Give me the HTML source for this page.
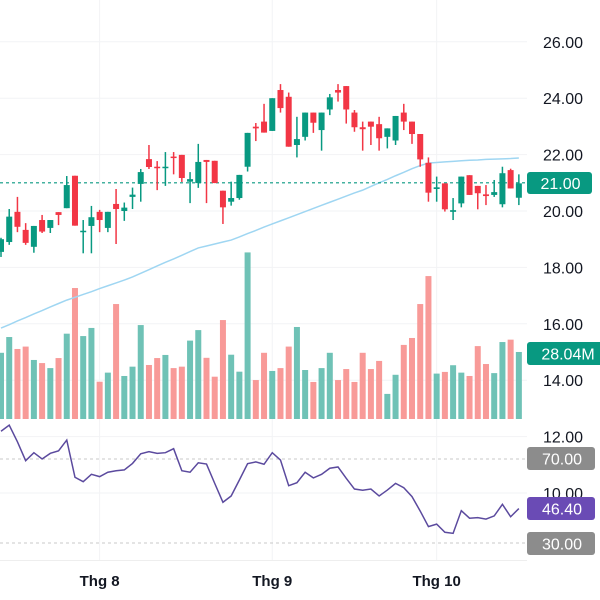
<!DOCTYPE html>
<html><head><meta charset="utf-8"><style>
html,body{margin:0;padding:0;background:#fff;width:600px;height:600px;overflow:hidden}
svg{display:block;font-family:"Liberation Sans",sans-serif}
</style></head><body>
<svg id="chart" width="600" height="600" viewBox="0 0 600 600"></svg>
<script>
const opens=[18.55,18.9,19.97,19.33,18.73,19.68,19.4,19.96,20.1,21.25,19.25,19.47,19.97,19.4,20.25,20.0,20.5,20.96,21.84,21.57,21.53,21.93,21.99,21.04,20.99,21.81,21.78,20.72,20.33,20.46,21.57,22.99,23.17,22.84,24.29,24.05,22.34,22.63,23.49,22.87,23.6,24.29,24.43,23.49,22.97,23.17,23.08,22.63,22.5,23.49,23.17,22.73,21.71,20.78,20.98,19.97,20.27,21.27,20.89,20.59,20.57,20.24,21.45,20.47];
const closes=[19.0,19.8,19.44,18.87,19.47,19.27,19.68,19.86,20.92,19.48,19.3,19.78,19.68,19.97,20.07,20.12,20.58,21.38,21.56,21.52,21.57,21.9,21.17,21.13,21.74,21.74,20.99,20.13,20.46,21.28,22.77,22.93,22.78,24.0,23.65,22.28,22.55,23.49,23.13,23.49,24.03,24.2,23.6,22.97,22.9,22.99,22.58,22.93,23.37,23.17,22.73,21.83,20.65,20.84,20.06,20.03,21.22,20.57,20.63,20.53,20.67,21.34,20.8,20.98];
const highs=[19.05,20.07,20.5,19.57,19.47,19.86,19.68,19.96,21.24,21.25,19.68,20.18,20.04,19.97,20.78,20.3,20.83,21.49,22.34,21.77,22.09,22.09,21.99,21.38,22.38,21.81,21.78,20.72,21.04,21.28,22.77,23.12,23.8,24.0,24.5,24.2,23.34,23.49,23.49,23.49,24.15,24.5,24.43,23.58,23.17,23.17,23.34,22.93,23.37,23.8,23.17,22.73,21.9,21.22,20.98,20.46,21.22,21.27,20.89,20.92,21.1,21.57,21.5,21.3];
const lows=[18.37,18.8,19.25,18.8,18.52,19.22,19.22,19.5,20.1,19.48,18.5,18.5,19.25,19.25,18.83,19.65,20.07,20.33,21.49,20.74,20.89,21.3,21.03,20.28,20.82,20.28,20.99,19.54,20.19,20.4,21.4,22.48,22.78,22.84,23.49,22.28,21.9,22.5,22.77,22.14,23.4,23.88,23.1,22.81,22.14,22.34,22.14,22.22,22.34,22.87,22.38,21.57,20.33,20.33,19.98,19.68,20.13,20.57,20.06,20.21,20.5,20.13,20.8,20.21];
const volumes=[27.7,34.3,29.3,30.3,24.7,23.4,21.3,25.5,35.7,54.8,34.7,38.1,15.6,19.4,48.1,18,21.9,39.3,22.6,25.5,26.8,21.3,21.9,32.8,37.2,25.6,17.7,41.4,26.9,19.8,69.7,16.3,27.7,20.1,21.3,30.3,38.5,20.5,15.5,21.3,27.7,16.3,20.9,15.5,27.7,20.9,24.3,10.5,18.5,31,33.9,48.1,59.8,19,19.7,22.5,19.4,18,30.5,23,19.2,32.2,33.2,28.04];
const maValues=[15.85,15.97,16.10,16.22,16.35,16.47,16.60,16.72,16.84,16.94,17.04,17.14,17.25,17.35,17.45,17.55,17.66,17.79,17.92,18.05,18.18,18.30,18.43,18.56,18.69,18.76,18.83,18.90,18.97,19.08,19.20,19.31,19.43,19.54,19.65,19.76,19.87,19.98,20.09,20.20,20.31,20.42,20.53,20.64,20.74,20.87,21.0,21.12,21.25,21.37,21.5,21.61,21.70,21.72,21.74,21.76,21.78,21.80,21.81,21.83,21.84,21.85,21.86,21.88];
const rsiValues=[83.2,86.1,78.2,69.2,73.0,70.0,72.7,73.9,79.0,61.3,59.2,62.7,61.6,63.7,64.4,64.8,67.9,72.5,73.5,72.7,73.0,74.9,64.4,63.7,68.2,67.6,58.4,49.4,52.4,60.0,67.8,68.6,67.5,73.0,69.5,57.3,58.7,63.7,61.0,62.7,65.6,66.2,60.8,55.7,55.1,55.7,52.4,55.2,58.4,56.3,52.1,45.2,37.8,39.0,35.1,34.6,45.4,41.8,42.1,41.4,42.9,48.4,42.5,46.4];
const priceTicks=[26,24,22,20,18,16,14,12,10];
const priceTickLabels=["26.00","24.00","22.00","20.00","18.00","16.00","14.00","12.00","10.00"];
const timeLabels=["Thg 8","Thg 9","Thg 10"];
const timeLabelIdx=[12,33,53];
const lastPrice=21.00;
const lastVolumeLabel="28.04M";
const rsiLevels=[70,30];

const NS="http://www.w3.org/2000/svg";
const svg=document.getElementById('chart');
const xOf=i=>1+8.22*i;
const yP=p=>211-(p-20)*28.2;
const yV=v=>419-v*2.39;
const yR=v=>459-(v-70)*2.1;
function mk(tag,attrs,parent){const e=document.createElementNS(NS,tag);for(const k in attrs)e.setAttribute(k,attrs[k]);(parent||svg).appendChild(e);return e;}

// grid
const grid=mk('g',{});


priceTicks.forEach(p=>{const l=mk('line',{x1:0,x2:527,y1:yP(p),y2:yP(p),stroke:'#f2f3f5','stroke-width':1},grid);});
timeLabelIdx.forEach(i=>{mk('line',{x1:xOf(i),x2:xOf(i),y1:0,y2:560,stroke:'#f2f3f5','stroke-width':1},grid);});
mk('line',{x1:0,x2:527,y1:560.5,y2:560.5,stroke:'#eeeeee','stroke-width':1},grid);

// volume
const vg=mk('g',{});


volumes.forEach((v,i)=>{
  const up=closes[i]>=opens[i];
  const r=mk('rect',{x:xOf(i)-3,y:yV(v),width:6,height:419-yV(v),fill:up?'#6fc2b6':'#f89a98'},vg);
  
  
});

// MA line
const ma=mk('polyline',{points:maValues.map((v,i)=>xOf(i)+','+yP(v)).join(' '),fill:'none',stroke:'#9fd6f2','stroke-width':1.5});



// last price line
const lp=mk('line',{x1:0,x2:527,y1:yP(lastPrice),y2:yP(lastPrice),stroke:'#089981','stroke-width':1.2,'stroke-dasharray':'3,3'});



// candles
const cg=mk('g',{});


opens.forEach((o,i)=>{
  const c=closes[i],up=c>=o,col=up?'#089981':'#f23645',x=xOf(i);
  const g=mk('g',{},cg);
  
  
  mk('line',{x1:x,x2:x,y1:yP(highs[i]),y2:yP(lows[i]),stroke:col,'stroke-width':1.5},g);
  const top=yP(Math.max(o,c)),h=Math.max(1.5,Math.abs(yP(o)-yP(c)));
  mk('rect',{x:x-3,y:top,width:6,height:h,fill:col},g);
});

// RSI
const rg=mk('g',{});


rsiLevels.forEach(l=>{mk('line',{x1:0,x2:527,y1:yR(l),y2:yR(l),stroke:'#c8c8c8','stroke-width':1,'stroke-dasharray':'3,3'},rg);});
const rl=mk('polyline',{points:rsiValues.map((v,i)=>xOf(i)+','+yR(v)).join(' '),fill:'none',stroke:'#5b4a9e','stroke-width':1.5},rg);



// price axis labels
const ag=mk('g',{});


priceTicks.forEach((p,i)=>{
  const t=mk('text',{x:583,y:yP(p)+6,'text-anchor':'end','font-size':16,fill:'#131722'},ag);
  t.textContent=priceTickLabels[i];
  
  
});

function badge(name,y,h,w,fill,txt){
  const g=mk('g',{});
  
  
  mk('rect',{x:527,y:y,width:w,height:h,rx:3,fill:fill},g);
  const t=mk('text',{x:527+w/2+1,y:y+h/2+6,'text-anchor':'middle','font-size':16,fill:'#fff'},g);
  t.textContent=txt;
}
badge('last-price-label',172,22,65,'#089981',lastPrice.toFixed(2));
badge('volume-label',342,23,80,'#089981',lastVolumeLabel);
badge('rsi-70-label',447,23,68,'#8c8c8c',rsiLevels[0].toFixed(2));
badge('rsi-value-label',497,23,68,'#6a4bb5',rsiValues[rsiValues.length-1].toFixed(2));
badge('rsi-30-label',532,23,68,'#8c8c8c',rsiLevels[1].toFixed(2));

// time axis
const tg=mk('g',{});


timeLabelIdx.forEach((idx,i)=>{
  const t=mk('text',{x:xOf(idx),y:586,'text-anchor':'middle','font-size':15,'font-weight':'bold',fill:'#131722'},tg);
  t.textContent=timeLabels[i];
  
  
});
</script>
</body></html>
